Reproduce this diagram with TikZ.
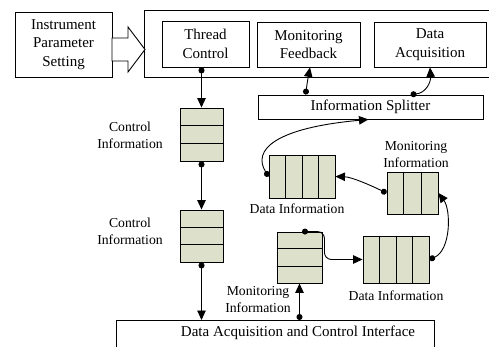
\documentclass[tikz,border=0pt]{standalone}
\usepackage{fontspec}
\setmainfont{Liberation Serif}
\usetikzlibrary{arrows.meta,calc}
\definecolor{qfill}{RGB}{221,225,204}
\begin{document}
\begin{tikzpicture}[x=1pt,y=-1pt,
  lw/.style={line width=0.9pt},
  box/.style={draw, lw, align=center, inner sep=0pt, font=\fontsize{15}{18.5}\selectfont},
  lbl/.style={align=center, inner sep=0pt, font=\fontsize{13.7}{17}\selectfont},
  queue/.style={draw, lw, fill=qfill, inner sep=0pt},
  conn/.style={lw, {Circle[length=6pt]}-{Triangle[length=9.5pt,width=8.5pt]}},
]
\useasboundingbox (0,0) rectangle (489,347);

% functional blocks
\node[box, minimum width=97, minimum height=65] (ips) at (63.5,44.5) {Instrument\\Parameter\\Setting};
\node[box, minimum width=347, minimum height=67, anchor=north west] (outer) at (144,10) {};
\node[box, minimum width=87, minimum height=46] (tc) at (205.5,44) {Thread\\Control};
\node[box, minimum width=103, minimum height=45] (mf) at (308.5,44.5) {Monitoring\\Feedback};
\node[box, minimum width=112, minimum height=45] (da) at (430,44.5) {Data\\Acquisition};
\node[box, minimum width=225, minimum height=24] (sp) at (370.5,107) {Information Splitter};
\node[box, minimum width=318, minimum height=32, anchor=north west] (iface) at (116,320) {};
\node[box, draw=none] (ifacetext) at (298,332.5) {Data Acquisition and Control Interface};

% hollow block arrow into the thread group
\draw[lw, fill=white] (112,38) -- (128,38) -- (128,27) -- (145,49.5) -- (128,72) -- (128,61) -- (112,61) -- cycle;

% queues
\node[queue, minimum width=43, minimum height=53] (q1) at (201.5,134.5) {};
\node[queue, minimum width=43, minimum height=52] (q2) at (201.5,236) {};
\node[queue, minimum width=45, minimum height=51] (qm) at (299.5,257.5) {};
\node[queue, minimum width=66, minimum height=47] (qd2) at (396,259.5) {};
\node[queue, minimum width=51, minimum height=42] (qm2) at (412.5,193) {};
\node[queue, minimum width=66, minimum height=43] (qd1) at (302,176.5) {};

\foreach \q in {q1,q2,qm}{
  \foreach \f in {0.3333,0.6667}{
    \draw[lw] ($(\q.north west)!\f!(\q.south west)$) -- ($(\q.north east)!\f!(\q.south east)$);}}
\foreach \q in {qd1,qd2}{
  \foreach \f in {0.25,0.5,0.75}{
    \draw[lw] ($(\q.north west)!\f!(\q.north east)$) -- ($(\q.south west)!\f!(\q.south east)$);}}
\foreach \f in {0.3333,0.6667}{
  \draw[lw] ($(qm2.north west)!\f!(qm2.north east)$) -- ($(qm2.south west)!\f!(qm2.south east)$);}

% queue labels
\node[lbl] (l1) at (130,135) {Control\\Information};
\node[lbl] (l2) at (130,231) {Control\\Information};
\node[lbl] (l3) at (258,300) {Monitoring\\Information};
\node[lbl] (l4) at (396,296) {Data Information};
\node[lbl] (l5) at (416,154.5) {Monitoring\\Information};
\node[lbl] (l6) at (297,209) {Data Information};

% connectors
\draw[conn] (q1.north |- tc.south) -- (q1.north);
\draw[conn] (q1.south) -- (q2.north);
\draw[conn] (q2.south) -- (q2.south |- iface.north);
\draw[conn] (qm.south |- iface.north) -- (qm.south);
\draw[conn, rounded corners=7pt] ($(qm.north)+(2.5,0)$) -- ($(qm.north east)+(2,0)$) |- (qd2.west);
\draw[conn] (qd2.east) .. controls (451,250) and (451,210) .. (qm2.east);
\draw[conn] (qm2.west) .. controls (372,186) and (352,177) .. (qd1.east);
\draw[conn] (qd1.west) .. controls (252,150) and (275,128) .. ($(sp.south)+(-2,0)$);
\draw[conn] ($(sp.north west)+(48,0)$) .. controls ($(sp.north west)+(50,-14)$) .. ($(mf.south)+(1.5,0)$);
\draw[conn] ($(sp.north west)+(153,0)$) .. controls (426,93) and (431,82) .. (da.south);
\end{tikzpicture}
\end{document}
